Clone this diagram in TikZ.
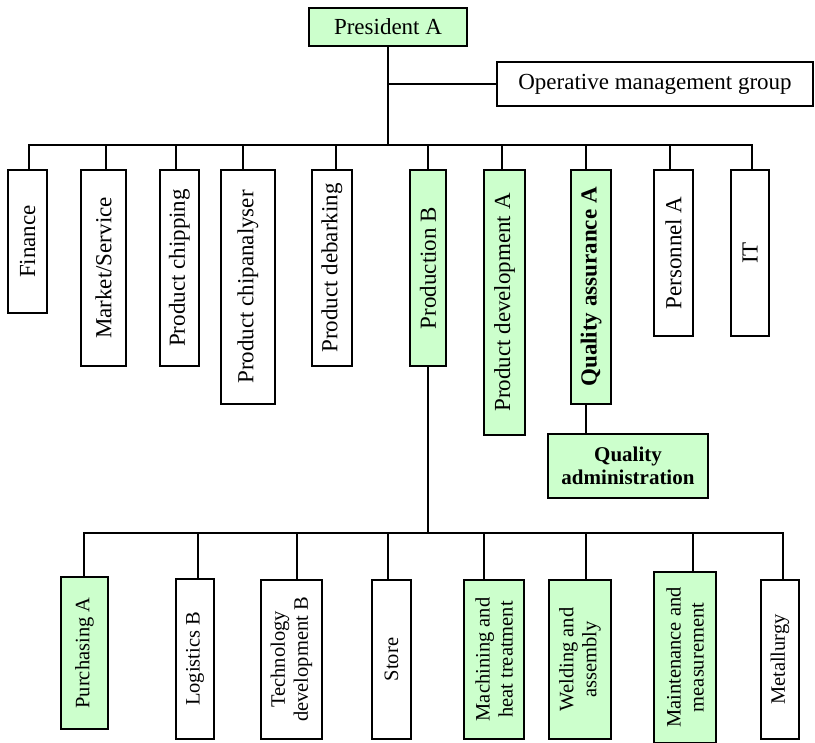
\documentclass[tikz,border=0pt]{standalone}
\usepackage{fontspec}
\setmainfont{Liberation Serif}
\usetikzlibrary{positioning}
\definecolor{unitgreen}{RGB}{204,255,204}
\newcommand{\topfont}{\fontsize{23}{25}\selectfont}
\newcommand{\lowfont}{\fontsize{20.5}{23}\selectfont}
\begin{document}
\begin{tikzpicture}[x=1pt,y=-1pt,
	unit/.style={draw,line width=1.3pt,inner sep=1pt,align=center,font=\topfont},
	focus/.style={fill=unitgreen},
	vert/.style={rotate=90},
	low/.style={font=\lowfont},
	conn/.style={line width=1.1pt}]
	\useasboundingbox (0,0) rectangle (815,743);

	\node [unit,focus,minimum width=158,minimum height=38] (pres) at (388,27) {President A};
	\node [unit,minimum width=316,minimum height=44] (ops) at (655,84) {Operative management group};

	\node [unit,vert,minimum width=143,minimum height=39] (fin) at (27.5,241.5) {Finance};
	\node [unit,vert,minimum width=196,minimum height=45] (mkt) at (103.5,268) {Market/Service};
	\node [unit,vert,minimum width=196,minimum height=39] (chip) at (179.5,268) {Product chipping};
	\node [unit,vert,minimum width=234,minimum height=54] (chipan) at (248,287) {Product chipanalyser};
	\node [unit,vert,minimum width=196,minimum height=40] (debark) at (332,268) {Product debarking};
	\node [unit,vert,focus,minimum width=196,minimum height=36] (prod) at (428,268) {Production B};
	\node [unit,vert,focus,minimum width=265,minimum height=41] (pdev) at (504.5,302.5) {Product development A};
	\node [unit,vert,focus,minimum width=234,minimum height=40] (qa) at (591,287) {\bfseries Quality assurance A};
	\node [unit,vert,minimum width=166,minimum height=39] (pers) at (673.5,253) {Personnel A};
	\node [unit,vert,minimum width=166,minimum height=38] (it) at (750,253) {IT};

	\node [unit,focus,minimum width=160,minimum height=64,font=\fontsize{21}{23}\selectfont\bfseries]
		(qadm) at (628,466) {Quality\\administration};

	\node [unit,vert,low,focus,minimum width=152,minimum height=47] (purch) at (84.5,653) {Purchasing A};
	\node [unit,vert,low,minimum width=160,minimum height=38] (logi) at (195,659) {Logistics B};
	\node [unit,vert,low,minimum width=159,minimum height=61] (tech) at (291.5,659.5) {Technology\\development B};
	\node [unit,vert,low,minimum width=159,minimum height=39] (store) at (391.5,659.5) {Store};
	\node [unit,vert,low,focus,minimum width=159,minimum height=60] (mach) at (494,659.5) {Machining and\\heat treatment};
	\node [unit,vert,low,focus,minimum width=159,minimum height=62] (weld) at (580,659.5) {Welding and\\assembly};
	\node [unit,vert,low,focus,minimum width=171,minimum height=62] (maint) at (685,657.5) {Maintenance and\\measurement};
	\node [unit,vert,low,minimum width=159,minimum height=38] (metal) at (780,659.5) {Metallurgy};

	\coordinate (tbar) at (388,145);
	\coordinate (bbar) at (428,533);

	\draw [conn] (pres.south) -- (tbar);
	\draw [conn] (tbar |- ops) -- (ops.west);
	\foreach \n/\s in {fin/1.5,mkt/2.5,chip/-3.5,chipan/-5,debark/4,prod/0,pdev/-2.5,qa/-5,pers/-3.5,it/2}
		\draw [conn] (tbar) -| ([xshift=\s pt]\n.east);
	\draw [conn] ([xshift=-5pt]qa.west) -- ([xshift=-5pt]qa.west |- qadm.north);

	\draw [conn] (prod.west) -- (bbar);
	\foreach \n/\s in {purch/-0.5,logi/3,tech/5.5,store/-3.5,mach/-10,weld/6,maint/8,metal/3}
		\draw [conn] (bbar) -| ([xshift=\s pt]\n.east);
\end{tikzpicture}
\end{document}
